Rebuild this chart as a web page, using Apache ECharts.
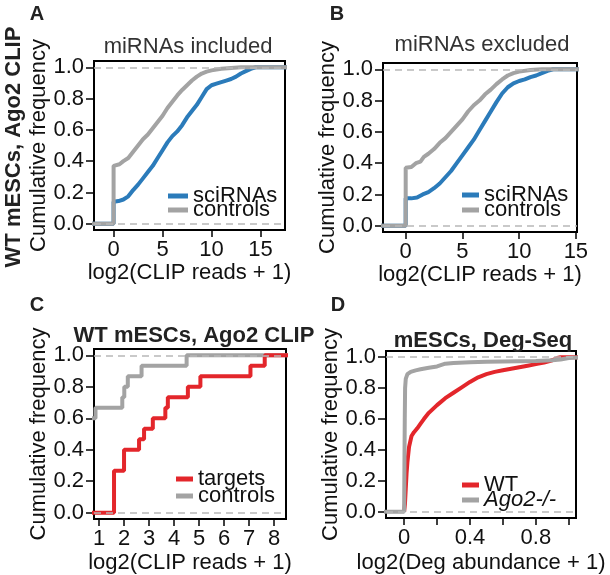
<!DOCTYPE html>
<html><head><meta charset="utf-8">
<script src="https://cdn.jsdelivr.net/npm/echarts@6/dist/echarts.min.js"></script>
<style>html,body{margin:0;padding:0;background:#fff}#c{width:610px;height:575px}</style>
</head><body><div id="c"></div>
<script>
// ---- tick values ----
const yTicks = [0, 0.2, 0.4, 0.6, 0.8, 1.0];
const xTicksA = [0, 5, 10, 15];
const xTicksB = [0, 5, 10, 15];
const xTicksC = [1, 2, 3, 4, 5, 6, 7, 8];
const xTicksD = [0, 0.2, 0.4, 0.6, 0.8, 1.0];
const xLabelsD = [0, 0.4, 0.8];

// ---- Panel A: miRNAs included ----
const sciA = [[-2.5,0],[0,0],[0,0.14],[0.5,0.145],[1.0,0.155],[1.5,0.175],[2.0,0.215],[2.5,0.25],[3.0,0.29],[3.5,0.33],[4.0,0.37],[4.5,0.42],[5.0,0.47],[5.5,0.52],[6.0,0.56],[6.5,0.59],[7.0,0.63],[7.5,0.68],[8.0,0.72],[8.5,0.76],[9.0,0.81],[9.5,0.86],[10,0.885],[10.5,0.895],[11,0.905],[11.5,0.915],[12,0.925],[12.5,0.94],[13,0.96],[13.5,0.975],[14,0.99],[14.5,1.0],[18,1.0]];
const ctrlA = [[-2.5,0],[0,0],[0,0.37],[0.6,0.38],[1.0,0.40],[1.5,0.42],[2.0,0.46],[2.5,0.50],[3.0,0.54],[3.5,0.57],[4.0,0.61],[4.5,0.65],[5.0,0.69],[5.5,0.74],[6.0,0.78],[6.5,0.82],[7.0,0.855],[7.5,0.885],[8.0,0.915],[8.5,0.94],[9.0,0.96],[9.5,0.972],[10,0.98],[11,0.99],[12,0.996],[13,1.0],[18,1.0]];

// ---- Panel B: miRNAs excluded ----
const sciB = [[-2.5,0],[0,0],[0,0.175],[0.5,0.175],[1.0,0.18],[1.5,0.20],[2.0,0.215],[2.5,0.24],[3.0,0.27],[3.5,0.31],[4.0,0.35],[4.5,0.40],[5.0,0.45],[5.5,0.50],[6.0,0.55],[6.5,0.61],[7.0,0.67],[7.5,0.73],[8.0,0.79],[8.5,0.845],[9.0,0.885],[9.5,0.91],[10,0.925],[10.5,0.935],[11,0.95],[11.5,0.96],[12,0.975],[12.5,0.99],[13,1.0],[16,1.0]];
const ctrlB = [[-2.5,0],[0,0],[0,0.37],[0.5,0.375],[0.9,0.40],[1.3,0.41],[1.6,0.44],[2.0,0.46],[2.5,0.49],[3.0,0.53],[3.5,0.56],[4.0,0.60],[4.5,0.64],[5.0,0.68],[5.5,0.73],[6.0,0.77],[6.5,0.80],[7.0,0.84],[7.5,0.87],[8.0,0.905],[8.5,0.935],[9.0,0.96],[9.5,0.975],[10,0.985],[11,0.995],[12,1.0],[16,1.0]];

// ---- Panel C: WT mESCs, Ago2 CLIP (step ECDF) ----
const tgtC = [[0.5,0],[1.6,0.267],[2.0,0.4],[2.6,0.467],[2.8,0.533],[3.15,0.6],[3.65,0.667],[3.75,0.733],[4.55,0.8],[5.05,0.867],[7.05,0.933],[7.62,1.0],[9,1.0]];
const ctrlC = [[0.5,0.6],[0.86,0.667],[1.93,0.733],[2.01,0.8],[2.15,0.867],[2.7,0.933],[4.5,1.0],[9,1.0]];

// ---- Panel D: mESCs, Deg-Seq ----
const wtD = [[0,0],[0.005,0.05],[0.01,0.15],[0.015,0.25],[0.02,0.32],[0.03,0.42],[0.045,0.49],[0.06,0.515],[0.08,0.54],[0.1,0.57],[0.12,0.6],[0.15,0.64],[0.2,0.69],[0.25,0.735],[0.3,0.77],[0.35,0.805],[0.4,0.84],[0.45,0.87],[0.5,0.89],[0.55,0.905],[0.6,0.915],[0.65,0.925],[0.7,0.935],[0.75,0.945],[0.8,0.955],[0.85,0.965],[0.9,0.98],[0.93,0.995],[0.95,1.0],[1.1,1.0]];
const koD = [[-0.2,0],[0,0],[0.002,0.3],[0.004,0.6],[0.006,0.8],[0.01,0.86],[0.02,0.89],[0.04,0.905],[0.07,0.915],[0.1,0.922],[0.15,0.932],[0.2,0.94],[0.25,0.958],[0.3,0.963],[0.4,0.967],[0.5,0.97],[0.6,0.972],[0.7,0.974],[0.8,0.976],[0.9,0.98],[0.95,0.985],[1.0,0.995],[1.1,1.0]];

const FONT = '"Liberation Sans", Arial, sans-serif';
const BLUE = '#2b7bba', GRAY = '#a3a3a3', RED = '#e3262b';
const FS = 22;
const TXT = '#111';

const grids = [
  {left: 94, top: 61, width: 191, height: 169},
  {left: 383, top: 63, width: 194, height: 169},
  {left: 94, top: 349, width: 192, height: 170},
  {left: 386, top: 351, width: 190, height: 169}
].map(g => Object.assign(g, {show: true, borderColor: '#000', borderWidth: 2, backgroundColor: 'transparent', containLabel: false}));

function mkX(idx, min, max, ticks, labels, fmt, gap) {
  return {
    type: 'value', gridIndex: idx, min, max, position: 'bottom',
    splitLine: {show: false}, axisLine: {show: false, onZero: false},
    axisTick: {show: true, length: 7, lineStyle: {color: '#000', width: 1.5}, customValues: ticks},
    axisLabel: {customValues: labels, margin: 9, fontSize: FS, color: TXT, fontFamily: FONT, formatter: fmt},
    name: idx === 3 ? 'log2(Deg abundance + 1)' : 'log2(CLIP reads + 1)',
    nameLocation: 'middle', nameGap: gap,
    nameTextStyle: {fontSize: FS, color: TXT, fontFamily: FONT}
  };
}
function mkY(idx, gap) {
  return {
    type: 'value', gridIndex: idx, min: -0.04, max: 1.04, position: 'left',
    splitLine: {show: false}, axisLine: {show: false, onZero: false},
    axisTick: {show: true, length: 8, lineStyle: {color: '#000', width: 1.5}, customValues: yTicks},
    axisLabel: {customValues: yTicks, margin: 10, fontSize: FS, color: TXT, fontFamily: FONT, formatter: v => v.toFixed(1)},
    name: 'Cumulative frequency', nameLocation: 'middle', nameRotate: 90, nameGap: gap,
    nameTextStyle: {fontSize: FS, color: TXT, fontFamily: FONT}
  };
}
const dashed = {
  silent: true, symbol: 'none', label: {show: false},
  lineStyle: {type: [7, 5], color: '#b8b8b8', width: 1.5},
  data: [{yAxis: 0}, {yAxis: 1}]
};
function ser(name, idx, data, color, step, withMark) {
  const s = {
    name, type: 'line', xAxisIndex: idx, yAxisIndex: idx, data,
    showSymbol: false, symbol: 'none', step: step || false,
    lineStyle: {color, width: 4}, itemStyle: {color}, animation: false
  };
  if (withMark) s.markLine = dashed;
  return s;
}
// one legend component per entry so rows can sit as tightly as in the reference
function leg(name, left, centerY, w) {
  return {
    data: [name], left, top: centerY - 12, orient: 'vertical', icon: 'rect',
    itemWidth: w, itemHeight: 5, itemGap: 0, padding: 0,
    textStyle: {fontSize: FS, color: TXT, fontFamily: FONT,
      rich: {i: {fontSize: FS, fontStyle: 'italic', color: TXT, fontFamily: FONT}}},
    formatter: n => n === 'Ago2-/-' ? '{i|' + n + '}' : n,
    selectedMode: false
  };
}
const numFmt = v => String(v);
const fmtD = v => v === 0 ? '0' : v.toFixed(1);

const txt = (t, x, y, size, bold, color, rot) => ({
  type: 'text', x, y, rotation: rot || 0, silent: true,
  style: {text: t, font: (bold ? 'bold ' : '') + size + 'px ' + FONT, fill: color,
    align: 'center', verticalAlign: 'middle', textAlign: 'center', textVerticalAlign: 'middle'}
});

const option = {
  backgroundColor: '#fff',
  animation: false,
  grid: grids,
  xAxis: [
    mkX(0, -2, 17.5, xTicksA, xTicksA, numFmt, 30),
    mkX(1, -2, 15.1, xTicksB, xTicksB, numFmt, 30),
    mkX(2, 0.8, 8.47, xTicksC, xTicksC, numFmt, 33),
    mkX(3, -0.11, 1.044, xTicksD, xLabelsD, fmtD, 34)
  ],
  yAxis: [mkY(0, 42), mkY(1, 36), mkY(2, 44), mkY(3, 39)],
  legend: [
    leg('sciRNAs', 168, 197, 20),
    leg('controls', 168, 211, 20),
    leg('sciRNAs', 462, 196, 17),
    leg('controls', 462, 211, 17),
    leg('targets', 176, 480, 17),
    leg('controls', 176, 497, 17),
    leg('WT', 462, 486, 17),
    leg('Ago2-/-', 462, 501, 17)
  ],
  series: [
    ser('sciRNAs', 0, sciA, BLUE, false, true),
    ser('controls', 0, ctrlA, GRAY),
    ser('sciRNAs', 1, sciB, BLUE, false, true),
    ser('controls', 1, ctrlB, GRAY),
    ser('controls', 2, ctrlC, GRAY, 'end', true),
    ser('targets', 2, tgtC, RED, 'end'),
    ser('WT', 3, wtD, RED, false, true),
    ser('Ago2-/-', 3, koD, GRAY)
  ],
  graphic: [
    txt('A', 37, 14, 20, true, '#222'),
    txt('B', 337, 14, 20, true, '#222'),
    txt('C', 37, 305, 20, true, '#222'),
    txt('D', 338, 305, 20, true, '#222'),
    txt('WT mESCs, Ago2 CLIP', 14, 147, 22, true, '#222', Math.PI / 2),
    txt('miRNAs included', 188, 47, 22, false, '#333'),
    txt('miRNAs excluded', 482, 45, 22, false, '#333'),
    txt('WT mESCs, Ago2 CLIP', 194, 336, 22, true, '#222'),
    txt('mESCs, Deg-Seq', 483, 341, 22, true, '#222')
  ]
};
const chart = echarts.init(document.getElementById('c'), null, {renderer: 'canvas'});
chart.setOption(option);
</script></body></html>
